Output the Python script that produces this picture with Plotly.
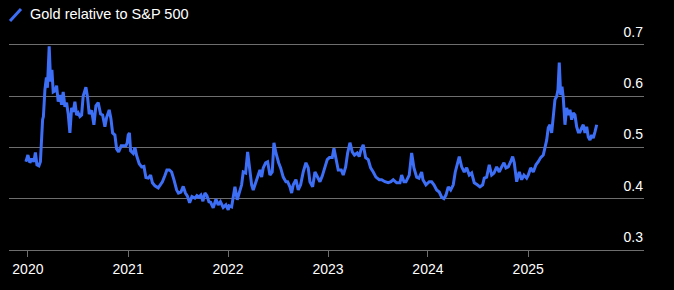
import pandas as pd
import plotly.graph_objects as go

# Time stamps as decimal years, and the Gold / S&P 500 ratio
years = [
    2019.980, 2020.000, 2020.020, 2020.040, 2020.060, 2020.075, 2020.090, 2020.110, 2020.125,
    2020.137, 2020.147, 2020.155, 2020.170, 2020.185, 2020.195, 2020.213, 2020.227, 2020.240,
    2020.253, 2020.270, 2020.287, 2020.303, 2020.320, 2020.337, 2020.353, 2020.370, 2020.387,
    2020.403, 2020.420, 2020.437, 2020.453, 2020.470, 2020.487, 2020.503, 2020.520, 2020.537,
    2020.553, 2020.580, 2020.597, 2020.613, 2020.637, 2020.660, 2020.680, 2020.703, 2020.727,
    2020.747, 2020.770, 2020.787, 2020.813, 2020.830, 2020.847, 2020.870, 2020.887, 2020.907,
    2020.933, 2020.980, 2020.993, 2021.003, 2021.015, 2021.027, 2021.053, 2021.070, 2021.087,
    2021.113, 2021.137, 2021.160, 2021.180, 2021.203, 2021.227, 2021.245, 2021.270, 2021.303,
    2021.327, 2021.345, 2021.370, 2021.390, 2021.415, 2021.437, 2021.460, 2021.487, 2021.505,
    2021.530, 2021.553, 2021.575, 2021.595, 2021.617, 2021.640, 2021.670, 2021.690, 2021.710,
    2021.730, 2021.750, 2021.770, 2021.790, 2021.810, 2021.827, 2021.853, 2021.880, 2021.903,
    2021.925, 2021.953, 2021.980, 2022.003, 2022.013, 2022.037, 2022.053, 2022.070, 2022.093,
    2022.113, 2022.137, 2022.153, 2022.177, 2022.197, 2022.220, 2022.237, 2022.253, 2022.280,
    2022.297, 2022.320, 2022.337, 2022.353, 2022.377, 2022.397, 2022.420, 2022.443, 2022.460,
    2022.480, 2022.507, 2022.527, 2022.553, 2022.580, 2022.597, 2022.620, 2022.637, 2022.653,
    2022.680, 2022.703, 2022.727, 2022.753, 2022.780, 2022.803, 2022.820, 2022.847, 2022.870,
    2022.893, 2022.920, 2022.943, 2022.970, 2022.993, 2023.015, 2023.043, 2023.060, 2023.080,
    2023.103, 2023.133, 2023.153, 2023.177, 2023.197, 2023.220, 2023.243, 2023.265, 2023.293,
    2023.313, 2023.330, 2023.353, 2023.377, 2023.403, 2023.427, 2023.453, 2023.480, 2023.513,
    2023.537, 2023.570, 2023.603, 2023.630, 2023.653, 2023.687, 2023.720, 2023.737, 2023.760,
    2023.780, 2023.813, 2023.837, 2023.860, 2023.887, 2023.910, 2023.937, 2023.950, 2023.980,
    2024.013, 2024.037, 2024.060, 2024.087, 2024.113, 2024.137, 2024.160, 2024.180, 2024.203,
    2024.227, 2024.253, 2024.273, 2024.293, 2024.313, 2024.337, 2024.363, 2024.387, 2024.413,
    2024.437, 2024.463, 2024.493, 2024.520, 2024.547, 2024.563, 2024.587, 2024.613, 2024.637,
    2024.660, 2024.687, 2024.713, 2024.737, 2024.760, 2024.780, 2024.803, 2024.827, 2024.847,
    2024.863, 2024.887, 2024.913, 2024.937, 2024.960, 2024.987, 2025.003, 2025.027, 2025.053,
    2025.080, 2025.103, 2025.127, 2025.153, 2025.170, 2025.187, 2025.203, 2025.220, 2025.237,
    2025.253, 2025.270, 2025.287, 2025.300, 2025.313, 2025.327, 2025.340, 2025.353, 2025.370,
    2025.387, 2025.403, 2025.420, 2025.437, 2025.453, 2025.470, 2025.487, 2025.503, 2025.520,
    2025.537, 2025.553, 2025.570, 2025.587, 2025.603, 2025.620, 2025.637, 2025.653, 2025.670,
    2025.687,
]

ratio = [
    0.472, 0.485, 0.470, 0.478, 0.472, 0.490, 0.466, 0.464, 0.472,
    0.520, 0.554, 0.560, 0.612, 0.636, 0.616, 0.697, 0.628, 0.651,
    0.608, 0.610, 0.620, 0.589, 0.602, 0.583, 0.608, 0.579, 0.587,
    0.565, 0.528, 0.577, 0.569, 0.589, 0.563, 0.567, 0.560, 0.563,
    0.600, 0.617, 0.597, 0.565, 0.572, 0.544, 0.581, 0.587, 0.565,
    0.563, 0.540, 0.558, 0.573, 0.556, 0.528, 0.524, 0.497, 0.491,
    0.503, 0.503, 0.509, 0.524, 0.528, 0.493, 0.488, 0.500, 0.484,
    0.468, 0.462, 0.463, 0.441, 0.440, 0.446, 0.431, 0.425, 0.421,
    0.427, 0.433, 0.445, 0.456, 0.456, 0.452, 0.437, 0.417, 0.411,
    0.413, 0.424, 0.411, 0.405, 0.392, 0.404, 0.401, 0.406, 0.403,
    0.407, 0.395, 0.411, 0.406, 0.394, 0.393, 0.382, 0.399, 0.388,
    0.394, 0.383, 0.388, 0.378, 0.386, 0.384, 0.403, 0.423, 0.398,
    0.411, 0.427, 0.452, 0.450, 0.491, 0.446, 0.427, 0.417, 0.433,
    0.442, 0.456, 0.442, 0.460, 0.470, 0.472, 0.446, 0.452, 0.509,
    0.489, 0.470, 0.460, 0.442, 0.433, 0.433, 0.423, 0.411, 0.427,
    0.437, 0.417, 0.427, 0.452, 0.470, 0.460, 0.433, 0.423, 0.452,
    0.442, 0.433, 0.444, 0.462, 0.476, 0.480, 0.480, 0.498, 0.476,
    0.456, 0.456, 0.446, 0.462, 0.489, 0.509, 0.491, 0.485, 0.489,
    0.482, 0.495, 0.505, 0.480, 0.476, 0.460, 0.452, 0.442, 0.437,
    0.437, 0.433, 0.431, 0.433, 0.437, 0.431, 0.431, 0.446, 0.433,
    0.433, 0.446, 0.489, 0.460, 0.442, 0.440, 0.452, 0.437, 0.427,
    0.433, 0.433, 0.427, 0.417, 0.413, 0.403, 0.400, 0.407, 0.423,
    0.417, 0.427, 0.452, 0.466, 0.482, 0.462, 0.452, 0.460, 0.446,
    0.450, 0.431, 0.427, 0.423, 0.427, 0.440, 0.442, 0.466, 0.446,
    0.450, 0.462, 0.452, 0.462, 0.470, 0.460, 0.462, 0.472, 0.482,
    0.470, 0.433, 0.452, 0.437, 0.446, 0.440, 0.446, 0.460, 0.452,
    0.466, 0.472, 0.480, 0.485, 0.499, 0.514, 0.538, 0.544, 0.528,
    0.560, 0.593, 0.599, 0.612, 0.665, 0.602, 0.618, 0.597, 0.544,
    0.577, 0.563, 0.573, 0.554, 0.567, 0.563, 0.540, 0.530, 0.530,
    0.538, 0.544, 0.528, 0.540, 0.520, 0.514, 0.524, 0.518, 0.530,
    0.544, 0.556,
]

y_ticks = [0.3, 0.4, 0.5, 0.6, 0.7]
x_ticks = ["2020-01-01", "2021-01-01", "2022-01-01", "2023-01-01", "2024-01-01", "2025-01-01"]
x_tick_labels = ["2020", "2021", "2022", "2023", "2024", "2025"]
series_name = "Gold relative to S&P 500"

n = min(len(years), len(ratio))
base = pd.Timestamp("2020-01-01")
dates = [base + pd.to_timedelta((y - 2020) * 365.25, unit="D") for y in years[:n]]

LINE = "#3d6ef6"
GRID = "#6e6e6e"
FONT = "Arial, Liberation Sans, sans-serif"

TOP, BOT = 12, 40
plot_h = 290 - TOP - BOT

fig = go.Figure()
fig.add_trace(go.Scatter(
    x=dates, y=ratio[:n], mode="lines", name=series_name,
    line=dict(color=LINE, width=3), showlegend=False,
))

fig.update_layout(
    width=674, height=290,
    margin=dict(l=9, r=30, t=TOP, b=BOT),
    paper_bgcolor="black", plot_bgcolor="black",
    font=dict(family=FONT, color="white", size=14),
    xaxis=dict(
        range=["2019-10-24", "2026-02-28"],
        tickvals=x_ticks, ticktext=x_tick_labels,
        showgrid=False, zeroline=False,
        showline=True, linecolor=GRID, linewidth=1,
        ticks="outside", ticklen=6, tickcolor=GRID, tickwidth=1,
        tickfont=dict(size=14, color="white"),
    ),
    yaxis=dict(
        range=[0.3, 0.3 + plot_h / 513.3], side="right",
        tickvals=y_ticks, ticktext=[f"{v:.1f}" for v in y_ticks],
        ticklabelposition="inside", ticklabelshift=-13, ticklabelstandoff=-2,
        showgrid=True, gridcolor=GRID, gridwidth=1,
        zeroline=False, showline=False, ticks="",
        tickfont=dict(size=14, color="white"),
    ),
    shapes=[dict(type="line", xref="paper", yref="paper",
                 x0=(10 - 9) / 635, x1=(21 - 9) / 635,
                 y0=(290 - BOT - 21) / plot_h, y1=(290 - BOT - 9) / plot_h,
                 line=dict(color=LINE, width=3))],
    annotations=[dict(text=series_name, xref="paper", yref="paper",
                      x=(28 - 9) / 635, y=(290 - BOT - 14.5) / plot_h,
                      xanchor="left", yanchor="middle", showarrow=False,
                      font=dict(size=14.5, color="white", family=FONT))],
)

fig.write_html("out.html")
